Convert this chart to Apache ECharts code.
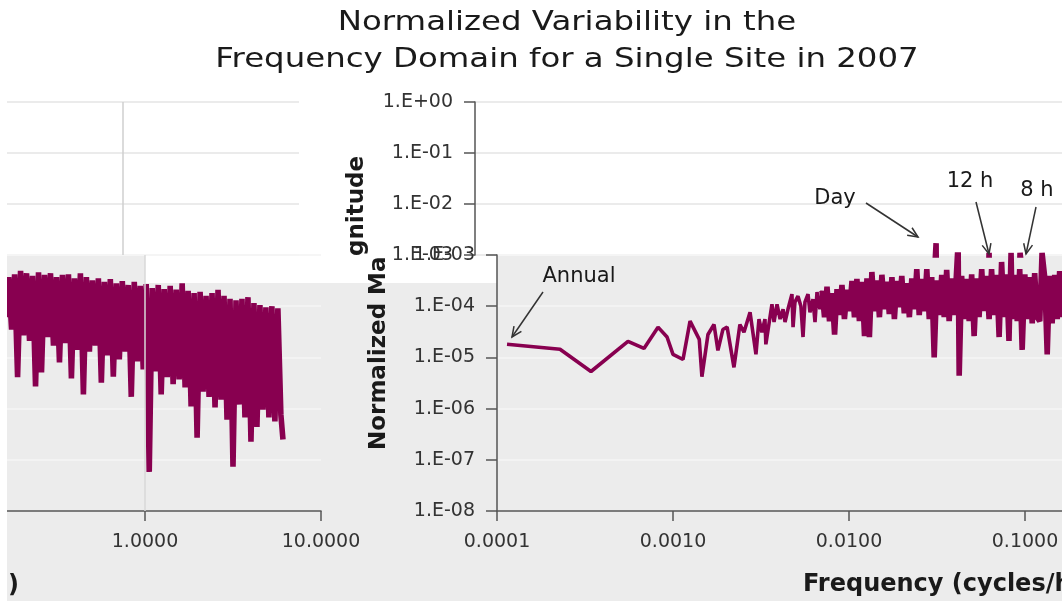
<!DOCTYPE html>
<html>
<head>
<meta charset="utf-8">
<title>Normalized Variability in the Frequency Domain</title>
<script src="https://cdn.jsdelivr.net/npm/echarts@6.0.0/dist/echarts.min.js"></script>
<style>
  html, body { margin: 0; padding: 0; background: #fff; }
  #chart { width: 1062px; height: 601px; }
</style>
</head>
<body>
<div id="chart"></div>
<script>
// frequency in cycles/hour, magnitude normalized
var freqLow = [0.000114, 0.000228, 0.000342, 0.000555, 0.000684, 0.000822, 0.000925, 0.00100, 0.00114, 0.00125,
  0.00141, 0.00146, 0.00158, 0.00171, 0.00180, 0.00192, 0.00203, 0.00222, 0.00240, 0.00253,
  0.00274, 0.00296, 0.00308, 0.00320, 0.00333, 0.00337, 0.00365, 0.00375, 0.00390, 0.00406,
  0.00422, 0.00433, 0.00450, 0.00474, 0.00481, 0.00493, 0.00513, 0.00533, 0.00548, 0.00562,
  0.00585, 0.00600, 0.00624, 0.00641, 0.00658, 0.00684];
var magLow = [1.8e-5, 1.44e-5, 5.3e-6, 2.06e-5, 1.5e-5, 3.9e-5, 2.5e-5, 1.15e-5, 9.1e-6, 5.1e-5,
  2.25e-5, 4.2e-6, 2.8e-5, 4.4e-5, 1.37e-5, 3.5e-5, 3.9e-5, 6.4e-6, 4.4e-5, 3.1e-5,
  7.6e-5, 1.15e-5, 5.6e-5, 3.1e-5, 5.6e-5, 1.8e-5, 1.09e-4, 4.9e-5, 1.09e-4, 5.6e-5,
  8.7e-5, 4.9e-5, 8.7e-5, 1.72e-4, 3.9e-5, 1.2e-4, 1.57e-4, 1.0e-4, 2.5e-5, 1.2e-4,
  1.72e-4, 7.6e-5, 1.37e-4, 4.9e-5, 1.88e-4, 8.7e-5];

var freqBand = [0.00703, 0.00726, 0.00750, 0.00775, 0.00802, 0.00828, 0.00855, 0.00883, 0.00912, 0.00942,
  0.00975, 0.01007, 0.01040, 0.01074, 0.01109, 0.01146, 0.01186, 0.01225, 0.01265, 0.01306,
  0.01349, 0.01393, 0.01442, 0.01489, 0.01538, 0.01589, 0.01641, 0.01694, 0.01754, 0.01811,
  0.01871, 0.01932, 0.01995, 0.02061, 0.02133, 0.02203, 0.02275, 0.02350, 0.02427, 0.02506,
  0.02594, 0.02679, 0.02767, 0.02858, 0.02951, 0.03048, 0.03155, 0.03258, 0.03365, 0.03475,
  0.03589, 0.03707, 0.03837, 0.03963, 0.04167, 0.04227, 0.04365, 0.04508, 0.04667, 0.04819,
  0.04977, 0.05140, 0.05309, 0.05483, 0.05675, 0.05861, 0.06053, 0.06252, 0.06457, 0.06668,
  0.06902, 0.07129, 0.07362, 0.07603, 0.07852, 0.08110, 0.08333, 0.08472, 0.08750, 0.09036,
  0.09333, 0.09638, 0.09977, 0.1030, 0.1064, 0.1099, 0.1135, 0.1172, 0.1213, 0.1250,
  0.1294, 0.1337, 0.1380, 0.1426, 0.1476, 0.1524, 0.1574, 0.1626];
var magBand = [2.0e-4, 6.1e-5, 2.4e-4, 5.1e-5, 1.8e-4, 2.8e-5, 2.15e-4, 6.7e-5, 2.6e-4, 5.6e-5,
  2.1e-4, 8.0e-5, 3.1e-4, 6.1e-5, 3.4e-4, 5.1e-5, 3.0e-4, 2.6e-5, 3.5e-4, 2.5e-5,
  4.65e-4, 8.0e-5, 3.2e-4, 6.1e-5, 4.1e-4, 8.7e-5, 3.0e-4, 7.0e-5, 3.7e-4, 5.6e-5,
  3.1e-4, 9.5e-5, 3.9e-4, 7.3e-5, 2.8e-4, 6.1e-5, 3.5e-4, 8.7e-5, 5.3e-4, 6.7e-5,
  3.4e-4, 8.0e-5, 5.3e-4, 5.6e-5, 3.7e-4, 1.0e-5, 3.2e-4, 6.7e-5, 4.1e-4, 6.1e-5,
  5.1e-4, 5.1e-5, 3.5e-4, 6.7e-5, 1.7e-3, 4.4e-6, 3.9e-4, 5.6e-5, 3.4e-4, 5.1e-5,
  4.2e-4, 2.6e-5, 3.5e-4, 6.1e-5, 5.3e-4, 8.0e-5, 3.9e-4, 5.6e-5, 5.3e-4, 6.7e-5,
  4.1e-4, 2.5e-5, 7.3e-4, 6.1e-5, 4.2e-4, 2.1e-5, 1.1e-3, 5.6e-5, 4.1e-4, 5.1e-5,
  5.3e-4, 1.4e-5, 4.2e-4, 5.6e-5, 3.7e-4, 4.6e-5, 4.4e-4, 6.1e-5, 5.1e-5, 1.1e-3,
  3.7e-4, 1.15e-5, 3.9e-4, 4.6e-5, 4.1e-4, 5.6e-5, 4.85e-4, 6.1e-5];

var freqHigh = [0.1679, 0.1746, 0.1816, 0.1888, 0.1963, 0.2042, 0.2123, 0.2208, 0.2296, 0.2388,
  0.2483, 0.2582, 0.2685, 0.2793, 0.2904, 0.3020, 0.3141, 0.3266, 0.3396, 0.3532,
  0.3673, 0.3819, 0.3972, 0.4130, 0.4295, 0.4467, 0.4645, 0.4831, 0.5023, 0.5224,
  0.5433, 0.5649, 0.5875, 0.6109, 0.6353, 0.6607, 0.6871, 0.7145, 0.7430, 0.7727,
  0.8035, 0.8356, 0.8690, 0.9036, 0.9397, 0.9772, 1.016, 1.057, 1.099, 1.143,
  1.189, 1.236, 1.285, 1.337, 1.390, 1.445, 1.503, 1.563, 1.626, 1.690,
  1.758, 1.828, 1.901, 1.977, 2.056, 2.138, 2.223, 2.312, 2.404, 2.500,
  2.600, 2.704, 2.812, 2.924, 3.041, 3.162, 3.289, 3.420, 3.556, 3.698,
  3.846, 4.000, 4.159, 4.325, 4.498, 4.677, 4.864, 5.058, 5.260, 5.470,
  5.689, 5.916, 6.08];
var magHigh = [3.7e-4, 3.5e-5, 4.2e-4, 4.1e-6, 4.9e-4, 2.7e-5, 4.4e-4, 2.1e-5, 3.9e-4, 2.7e-6,
  4.6e-4, 5.1e-6, 4.1e-4, 2.5e-5, 4.4e-4, 1.7e-5, 3.7e-4, 8.0e-6, 4.1e-4, 1.9e-5,
  4.2e-4, 3.9e-6, 3.5e-4, 1.4e-5, 4.4e-4, 1.9e-6, 3.7e-4, 1.3e-5, 3.2e-4, 1.7e-5,
  3.5e-4, 3.2e-6, 3.0e-4, 1.1e-5, 3.4e-4, 4.2e-6, 2.8e-4, 9.1e-6, 3.1e-4, 1.3e-5,
  2.6e-4, 1.7e-6, 3.0e-4, 8.4e-6, 2.5e-4, 5.8e-6, 2.7e-4, 5.8e-8, 2.25e-4, 5.3e-6,
  2.6e-4, 1.9e-6, 2.15e-4, 4.1e-6, 2.5e-4, 3.0e-6, 2.1e-4, 3.7e-6, 2.8e-4, 2.6e-6,
  2.0e-4, 1.1e-6, 1.8e-4, 2.7e-7, 1.9e-4, 2.15e-6, 1.6e-4, 1.7e-6, 1.8e-4, 1.05e-6,
  2.1e-4, 1.5e-6, 1.6e-4, 6.1e-7, 1.4e-4, 7.3e-8, 1.3e-4, 1.2e-6, 1.4e-4, 6.7e-7,
  1.5e-4, 2.25e-7, 1.15e-4, 4.4e-7, 1.05e-4, 9.5e-7, 9.5e-5, 6.7e-7, 1.0e-4, 5.6e-7,
  9.1e-5, 7.6e-7, 2.5e-7];

var titleLines = ['Normalized Variability in the', 'Frequency Domain for a Single Site in 2007'];

var notes = [
  { text: 'Annual', x: 579, y: 277, from: [543, 292], to: [512, 337] },
  { text: 'Day', x: 835, y: 199, from: [866, 203], to: [918, 237] },
  { text: '12 h', x: 970, y: 182, from: [976, 202], to: [989, 254] },
  { text: '8 h', x: 1037, y: 191, from: [1036, 207], to: [1026, 254] }
];

function pairs(fs, ms) { return fs.map(function (f, i) { return [f, ms[i]]; }); }
// the sparse low-frequency part, then the dense noisy part (drawn heavier so it reads as a band)
var sparsePts = pairs(freqLow.concat(freqBand[0]), magLow.concat(magBand[0]));
var densePts = pairs(freqBand.concat(freqHigh), magBand.concat(magHigh));

var FONT = 'DejaVu Sans';
var lineColor = '#880050';
var axisStroke = { color: '#555', width: 1.5 };
var labelStyle = { fontFamily: FONT, fontSize: 19, color: '#333' };

function freqLabel(v) { return v.toFixed(4); }
function magLabel(v) {
  var e = Math.round(Math.log10(v));
  var a = Math.abs(e);
  return '1.E' + (e < 0 ? '-' : '+') + (a < 10 ? '0' : '') + a;
}

function arrow(p, q) {
  var ang = Math.atan2(q[1] - p[1], q[0] - p[0]), len = 11, spread = 0.42;
  var head = [
    [q[0] - len * Math.cos(ang - spread), q[1] - len * Math.sin(ang - spread)],
    [q[0], q[1]],
    [q[0] - len * Math.cos(ang + spread), q[1] - len * Math.sin(ang + spread)]
  ];
  return [
    { type: 'line', z: 10, shape: { x1: p[0], y1: p[1], x2: q[0], y2: q[1] }, style: { stroke: '#333', lineWidth: 1.5 } },
    { type: 'polyline', z: 10, shape: { points: head }, style: { stroke: '#333', lineWidth: 1.5, fill: null } }
  ];
}

function txt(x, y, s, size, weight, align, rot, sx) {
  return {
    type: 'text', x: x, y: y, z: 10, rotation: rot || 0, scaleX: sx || 1,
    style: {
      text: s, fontFamily: FONT, fontSize: size, fontWeight: weight, fill: '#1a1a1a',
      textAlign: align, align: align, textVerticalAlign: 'middle', verticalAlign: 'middle'
    }
  };
}

var graphics = [
  { type: 'rect', z: -10, shape: { x: 0, y: 0, width: 1062, height: 256 }, style: { fill: '#fff' } },
  { type: 'rect', z: -10, shape: { x: 145, y: 256, width: 352, height: 27 }, style: { fill: '#fff' } },
  { type: 'rect', z: 100, shape: { x: 0, y: 0, width: 7, height: 601 }, style: { fill: '#fff' } },
  txt(567, 23, titleLines[0], 27, 'normal', 'center', 0, 1.2),
  txt(567, 60, titleLines[1], 27, 'normal', 'center', 0, 1.2),
  txt(379, 450, 'Normalized Ma', 23, 'bold', 'left', Math.PI / 2),
  txt(357, 256, 'gnitude', 23, 'bold', 'left', Math.PI / 2),
  txt(803, 585, 'Frequency (cycles/hour)', 24, 'bold', 'left'),
  txt(8, 586, ')', 24, 'bold', 'left')
];
notes.forEach(function (n) {
  graphics.push(txt(n.x, n.y, n.text, 21, 'normal', 'center'));
  graphics = graphics.concat(arrow(n.from, n.to));
});

function grid(left, top, width, height) {
  return { left: left, top: top, width: width, height: height, containLabel: false, outerBoundsMode: 'none' };
}

function xAx(idx, max, visible) {
  if (!visible) return { gridIndex: idx, type: 'log', min: 1e-4, max: max, show: false };
  return {
    gridIndex: idx, type: 'log', min: 1e-4, max: max,
    axisLine: { show: true, onZero: false, lineStyle: axisStroke },
    axisTick: { show: true, length: 10, lineStyle: axisStroke },
    axisLabel: Object.assign({ formatter: freqLabel, margin: 22 }, labelStyle),
    splitLine: { show: false }
  };
}

function yAx(idx, min, max, visible, gridColor, hideMax) {
  return {
    gridIndex: idx, type: 'log', min: min, max: max,
    axisLine: { show: visible, lineStyle: axisStroke },
    axisTick: { show: visible, length: 11, lineStyle: axisStroke },
    axisLabel: Object.assign({ show: visible, formatter: magLabel, margin: 22, showMaxLabel: !hideMax }, labelStyle),
    splitLine: { show: true, lineStyle: { color: gridColor, width: 1.5 } }
  };
}

function lineSeries(idx, data, width, mark) {
  var s = {
    type: 'line', xAxisIndex: idx, yAxisIndex: idx, data: data,
    symbol: 'none', showSymbol: false, clip: true, silent: true,
    lineStyle: { color: lineColor, width: width, join: 'bevel' }
  };
  if (mark) {
    s.markLine = {
      silent: true, symbol: ['none', 'none'], label: { show: false }, animation: false,
      lineStyle: { color: mark, width: 1.5, type: 'solid' },
      data: [{ xAxis: 1 }]
    };
  }
  return s;
}

var series = [];
[null, null, '#cfcfcf', '#d8d8d8'].forEach(function (mark, idx) {
  series.push(lineSeries(idx, sparsePts, 3.6, mark));
  series.push(lineSeries(idx, densePts, 5.6));
});

var chart = echarts.init(document.getElementById('chart'));
chart.setOption({
  backgroundColor: '#ececec',
  animation: false,
  grid: [
    grid(475, 102, 704, 153),   // main chart, top strip
    grid(497, 255, 704, 256),   // main chart, lower part
    grid(-581, 102, 880, 153),  // wrapped part, top strip
    grid(-559, 255, 880, 256)   // wrapped part, lower part
  ],
  xAxis: [xAx(0, 1, false), xAx(1, 1, true), xAx(2, 10, false), xAx(3, 10, true)],
  yAxis: [
    yAx(0, 1e-3, 1, true, '#e4e4e4', false),
    yAx(1, 1e-8, 1e-3, true, '#f6f6f6', true),
    yAx(2, 1e-3, 1, false, '#e4e4e4', false),
    yAx(3, 1e-8, 1e-3, false, '#f6f6f6', false)
  ],
  series: series,
  graphic: { elements: graphics }
});
</script>
</body>
</html>
